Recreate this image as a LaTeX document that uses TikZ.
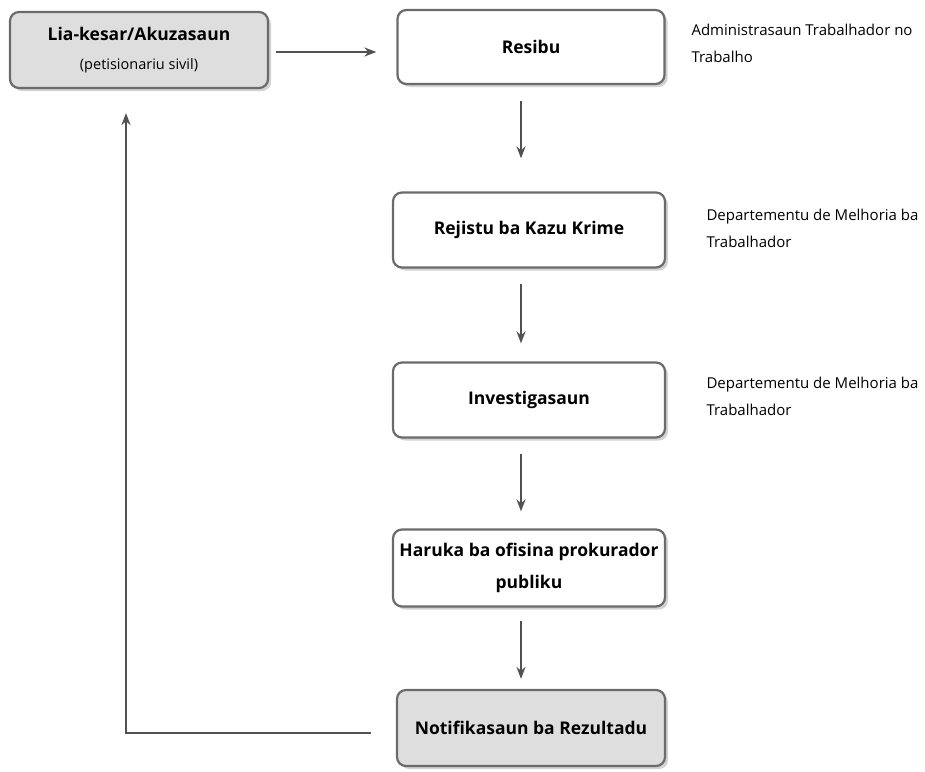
\documentclass[tikz,border=0pt]{standalone}
\usepackage{fontspec}
\setmainfont{Open Sans}
\usetikzlibrary{arrows.meta}
\usetikzlibrary{shadows}

\tikzset{
  stepbox/.style={draw=black!58, line width=2.2pt, rounded corners=9pt, fill=white,
    minimum width=268pt, minimum height=75pt, align=center, font=\bfseries\fontsize{17.5}{24}\selectfont,
    drop shadow={shadow xshift=3pt, shadow yshift=-3pt, fill=black!35}},
  greybox/.style={stepbox, fill=black!13},
  note/.style={anchor=north west, align=left, font=\fontsize{15}{27}\selectfont},
  flow/.style={-{Stealth[length=12pt,width=9pt]}, draw=black!68, line width=2pt}
}

\begin{document}
\begin{tikzpicture}[x=1pt, y=-1pt]
            \useasboundingbox (0,0) rectangle (925,771);

            \node[greybox, minimum width=258pt, minimum height=76pt] (lia) at (139,50) {Lia-kesar/Akuzasaun\\[5pt]{\mdseries\fontsize{14.5}{16}\selectfont (petisionariu sivil)}};
            \node[stepbox, minimum width=267pt, minimum height=74pt] (resibu) at (531,47) {Resibu};
            \node[stepbox, minimum width=272pt] (rejistu) at (529,230) {Rejistu ba Kazu Krime};
            \node[stepbox, minimum width=272pt] (invest) at (529,400) {Investigasaun};
            \node[stepbox, minimum width=272pt, minimum height=77pt] (haruka) at (529,568) {Haruka ba ofisina prokurador\\[8pt]publiku};
            \node[greybox, minimum width=268pt, minimum height=76pt] (notif) at (531,728) {Notifikasaun ba Rezultadu};

            \node[note] (adm) at (688,21) {Administrasaun Trabalhador no\\Trabalho};
            \node[note] (dep1) at (703,206) {Departementu de Melhoria ba\\Trabalhador};
            \node[note] (dep2) at (703,374) {Departementu de Melhoria ba\\Trabalhador};

            \coordinate (corner) at (126,733);

            \draw[flow] ([xshift=7pt,yshift=-2pt]lia.east) -- ([xshift=-20pt,yshift=-5pt]resibu.west);
            \draw[flow] ([xshift=-10pt,yshift=-16pt]resibu.south) -- ([xshift=-8pt,yshift=33pt]rejistu.north);
            \draw[flow] ([xshift=-8pt,yshift=-15pt]rejistu.south) -- ([xshift=-8pt,yshift=18pt]invest.north);
            \draw[flow] ([xshift=-8pt,yshift=-15pt]invest.south) -- ([xshift=-8pt,yshift=17pt]haruka.north);
            \draw[flow] ([xshift=-8pt,yshift=-13pt]haruka.south) -- ([xshift=-10pt,yshift=10pt]notif.north);
            \draw[flow] ([xshift=-25pt,yshift=-5pt]notif.west) -- (corner) -- ([xshift=-13pt,yshift=-24pt]lia.south);
        \end{tikzpicture}
\end{document}
